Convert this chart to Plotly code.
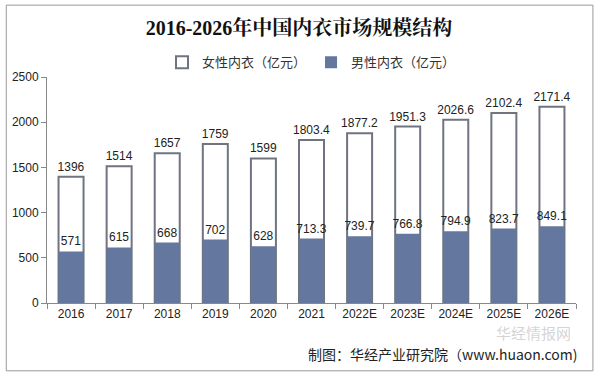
import plotly.graph_objects as go

years = ["2016", "2017", "2018", "2019", "2020", "2021", "2022E", "2023E", "2024E", "2025E", "2026E"]
female = [1396, 1514, 1657, 1759, 1599, 1803.4, 1877.2, 1951.3, 2026.6, 2102.4, 2171.4]
male = [571, 615, 668, 702, 628, 713.3, 739.7, 766.8, 794.9, 823.7, 849.1]
female_labels = ["1396", "1514", "1657", "1759", "1599", "1803.4", "1877.2", "1951.3", "2026.6", "2102.4", "2171.4"]
male_labels = ["571", "615", "668", "702", "628", "713.3", "739.7", "766.8", "794.9", "823.7", "849.1"]

title_text = "2016-2026年中国内衣市场规模结构"
source_text = "制图：华经产业研究院（www.huaon.com)"
watermark_text = "华经情报网"

FONT = "Liberation Sans, Arial, Noto Sans CJK SC, sans-serif"
BLUE = "#64779e"
GRAY = "#6f7480"

fig = go.Figure()
fig.add_trace(go.Bar(
    x=years, y=female, name="女性内衣（亿元）",
    marker=dict(color="white", line=dict(color=GRAY, width=2)),
    text=female_labels, textposition="outside", constraintext="none",
    textfont=dict(size=12, color="#222222", family=FONT),
    cliponaxis=False, width=0.52,
))
fig.add_trace(go.Bar(
    x=years, y=male, name="男性内衣（亿元）",
    marker=dict(color=BLUE, line=dict(color=BLUE, width=0)),
    text=male_labels, textposition="outside", constraintext="none",
    textfont=dict(size=12, color="#222222", family=FONT),
    cliponaxis=False, width=0.52,
))

fig.update_layout(
    width=598, height=376,
    barmode="overlay",
    paper_bgcolor="white", plot_bgcolor="white",
    margin=dict(l=44, r=22, t=77, b=73),
    font=dict(family=FONT, size=12, color="#222222"),
    title=dict(
        text="<b>" + title_text + "</b>",
        x=0.5, xanchor="center", y=0.926, yanchor="middle",
        font=dict(family="Liberation Serif, DejaVu Serif, Noto Serif CJK SC, Noto Sans CJK SC, serif", size=20, color="#111111"),
    ),
    legend=dict(
        orientation="h", x=0.5, xanchor="center", y=1.065, yanchor="middle",
        font=dict(size=13, color="#333333", family="Noto Sans CJK SC, sans-serif"),
        itemwidth=30, traceorder="normal",
    ),
    showlegend=True,
    xaxis=dict(
        type="category", showline=True, linecolor="#888888", linewidth=1,
        ticks="outside", tickson="boundaries", ticklen=5, tickcolor="#888888",
        tickfont=dict(size=12, color="#222222"), showgrid=False,
    ),
    yaxis=dict(
        range=[0, 2500], dtick=500, showline=True, linecolor="#888888", linewidth=1,
        ticks="outside", ticklen=5, tickcolor="#888888", showgrid=False,
        tickfont=dict(size=12, color="#222222"), zeroline=False,
    ),
)

# outer frame (paper coords relative to plot area)
fig.add_shape(type="rect", xref="paper", yref="paper",
              x0=-0.077, x1=1.032, y0=-0.30, y1=1.318,
              line=dict(color="#999999", width=1), fillcolor="rgba(0,0,0,0)")

# watermark
fig.add_annotation(text=watermark_text, xref="paper", yref="paper", x=0.995, y=-0.13,
                   xanchor="right", yanchor="middle", showarrow=False,
                   font=dict(size=15, color="rgba(175,175,175,0.55)", family="Noto Sans CJK SC"))

fig.add_annotation(text=source_text, xref="paper", yref="paper", x=1.0075, y=-0.225,
                   xanchor="right", yanchor="middle", showarrow=False,
                   font=dict(size=14, color="#222222", family="Noto Sans CJK SC, Liberation Sans"))

fig.write_html("out.html", config={"displayModeBar": False},
               post_script="document.body.style.margin='0';document.body.style.padding='0';")
